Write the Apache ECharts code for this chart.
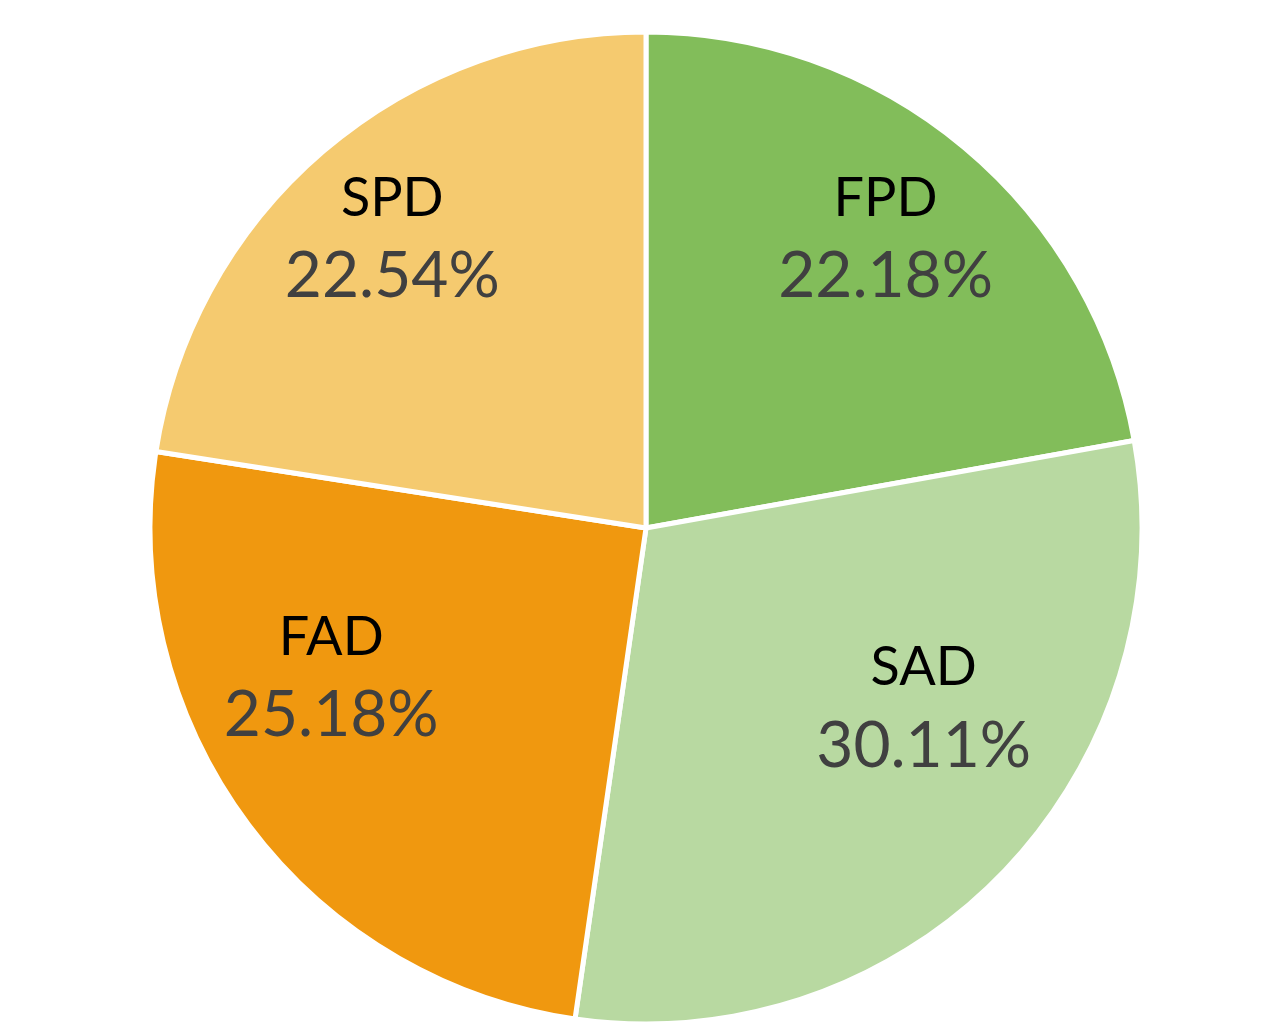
<!DOCTYPE html>
<html>
<head>
<meta charset="utf-8">
<script src="https://cdn.jsdelivr.net/npm/echarts@6/dist/echarts.min.js"></script>
<style>
  html, body { margin: 0; padding: 0; background: #fff; }
  #chart { width: 1271px; height: 1029px; }
</style>
</head>
<body>
<div id="chart"></div>
<script>
const names = ['FPD', 'SAD', 'FAD', 'SPD']
const shares = [22.18, 30.11, 25.18, 22.54]
const colors = ['#82bd5a', '#b8d9a1', '#f0980f', '#f5ca6f']
// small nudges so the labels sit where the original "best fit" put them
const labelNudge = [[6, -10], [16, -73], [-22, -67], [-17, -13]]

const chart = echarts.init(document.getElementById('chart'), null, { renderer: 'canvas' })

const center = [646, 528]
const outer = 496

const option = {
  animation: false,
  textStyle: { fontFamily: 'Lato' },
  series: [
    {
      // the slices
      type: 'pie',
      center,
      radius: [0, outer],
      startAngle: 90,
      clockwise: true,
      silent: true,
      itemStyle: { borderColor: '#fff', borderWidth: 5 },
      label: { show: false },
      labelLine: { show: false },
      data: names.map((name, i) => ({
        name,
        value: shares[i],
        itemStyle: { color: colors[i] }
      }))
    },
    {
      // transparent ring only used to place the labels further out
      type: 'pie',
      center,
      radius: [226, outer],
      startAngle: 90,
      clockwise: true,
      silent: true,
      itemStyle: { color: 'rgba(0,0,0,0)' },
      labelLine: { show: false },
      label: {
        show: true,
        position: 'inside',
        formatter: p => '{n|' + p.name + '}\n{v|' + p.value.toFixed(2) + '%}',
        rich: {
          n: { fontFamily: 'Lato', fontSize: 54, color: '#000', lineHeight: 76 },
          v: { fontFamily: 'Lato', fontSize: 64, color: '#404040', lineHeight: 80 }
        }
      },
      data: names.map((name, i) => ({
        name,
        value: shares[i],
        label: { offset: labelNudge[i] }
      }))
    }
  ]
}

chart.setOption(option)
</script>
</body>
</html>
